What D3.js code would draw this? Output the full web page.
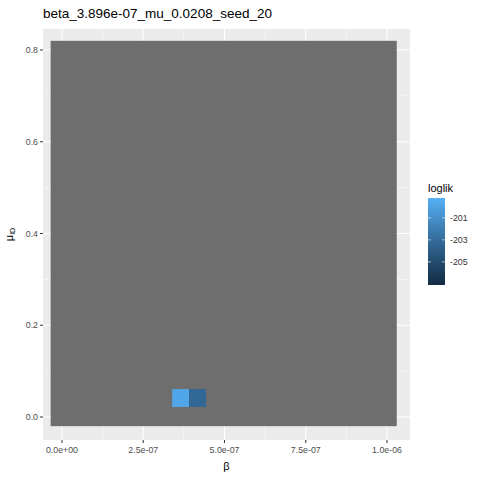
<!DOCTYPE html><html><head><script src="https://cdn.jsdelivr.net/npm/d3@7"></script>
<style>body{margin:0;background:#fff}text{font-family:"Liberation Sans",Arial,sans-serif}</style></head><body><svg id="c" width="480" height="480"></svg>
<script>
const xTicks=[0,2.5e-7,5e-7,7.5e-7,1e-6];
const xTickLabels=["0.0e+00","2.5e-07","5.0e-07","7.5e-07","1.0e-06"];
const yTicks=[0,0.2,0.4,0.6,0.8];
const naX=[-0.35e-7,1.03e-6], naY=[-0.02,0.82];
const tileBeta=[3.65e-7,4.17e-7];
const tileMu=[0.0414,0.0414];
const tileW=0.52e-7, tileH=0.039;
const tileLoglik=[-199.8,-203.3];
const legendTicks=[-201,-203,-205];
const llDomain=[-207.1,-199.2];

const svg=d3.select("#c");
const L=43,R=410,T=29,B=440;
const x=d3.scaleLinear().domain([0,1e-6]).range([62,387]);
const y=d3.scaleLinear().domain([0,0.8]).range([417,50]);
const col=d3.scaleLinear().domain(llDomain).range(["#132B43","#56B1F7"]).interpolate(d3.interpolateLab);
svg.append("rect").attr("x",L).attr("y",T).attr("width",R-L).attr("height",B-T).attr("fill","#EBEBEB");
const g=svg.append("g");
const minor=v=>v.slice(0,-1).map((d,i)=>(d+v[i+1])/2);
minor(xTicks).forEach(d=>g.append("line").attr("x1",x(d)).attr("x2",x(d)).attr("y1",T).attr("y2",B).attr("stroke","#fff").attr("stroke-width",0.5));
minor(yTicks).forEach(d=>g.append("line").attr("y1",y(d)).attr("y2",y(d)).attr("x1",L).attr("x2",R).attr("stroke","#fff").attr("stroke-width",0.5));
xTicks.forEach(d=>g.append("line").attr("x1",x(d)).attr("x2",x(d)).attr("y1",T).attr("y2",B).attr("stroke","#fff").attr("stroke-width",1));
yTicks.forEach(d=>g.append("line").attr("y1",y(d)).attr("y2",y(d)).attr("x1",L).attr("x2",R).attr("stroke","#fff").attr("stroke-width",1));
svg.append("rect").attr("x",x(naX[0])).attr("y",y(naY[1])).attr("width",x(naX[1])-x(naX[0])).attr("height",y(naY[0])-y(naY[1])).attr("fill","#6E6E6E");
tileBeta.forEach((b,i)=>svg.append("rect").attr("x",x(b-tileW/2)).attr("y",y(tileMu[i]+tileH/2)).attr("width",x(tileW)-x(0)).attr("height",y(0)-y(tileH)).attr("fill",col(tileLoglik[i])));
xTicks.forEach((d,i)=>{svg.append("line").attr("x1",x(d)).attr("x2",x(d)).attr("y1",B).attr("y2",B+3).attr("stroke","#333");
 svg.append("text").attr("x",x(d)).attr("y",B+13).attr("text-anchor","middle").attr("font-size",8.8).attr("fill","#4D4D4D").text(xTickLabels[i]);});
yTicks.forEach(d=>{svg.append("line").attr("x1",L-3).attr("x2",L).attr("y1",y(d)).attr("y2",y(d)).attr("stroke","#333");
 svg.append("text").attr("x",L-5).attr("y",y(d)+3).attr("text-anchor","end").attr("font-size",8.8).attr("fill","#4D4D4D").text(d.toFixed(1));});
svg.append("text").attr("x",(L+R)/2).attr("y",470).attr("text-anchor","middle").attr("font-size",11).text("β");
const yl=svg.append("text").attr("transform",`translate(13,${(T+B)/2}) rotate(-90)`).attr("text-anchor","middle").attr("font-size",11);
yl.append("tspan").text("μ");yl.append("tspan").attr("font-size",7).attr("dy",2).text("ID");
svg.append("text").attr("x",43).attr("y",18).attr("font-size",13.5).text("beta_3.896e-07_mu_0.0208_seed_20");
svg.append("text").attr("x",428).attr("y",192).attr("font-size",11).text("loglik");
const ly=d3.scaleLinear().domain(llDomain).range([285,198]);
const defs=svg.append("defs").append("linearGradient").attr("id","gr").attr("x1",0).attr("x2",0).attr("y1",1).attr("y2",0);
d3.range(0,1.01,0.1).forEach(t=>defs.append("stop").attr("offset",t).attr("stop-color",col(llDomain[0]+t*(llDomain[1]-llDomain[0]))));
svg.append("rect").attr("x",428).attr("y",198).attr("width",17).attr("height",87).attr("fill","url(#gr)");
legendTicks.forEach(d=>{svg.append("line").attr("x1",428).attr("x2",431).attr("y1",ly(d)).attr("y2",ly(d)).attr("stroke","#fff").attr("opacity",0.6);
 svg.append("line").attr("x1",442).attr("x2",445).attr("y1",ly(d)).attr("y2",ly(d)).attr("stroke","#fff").attr("opacity",0.6);
 svg.append("text").attr("x",450).attr("y",ly(d)+3).attr("font-size",8.8).attr("fill","#333").text(d);});
</script></body></html>
